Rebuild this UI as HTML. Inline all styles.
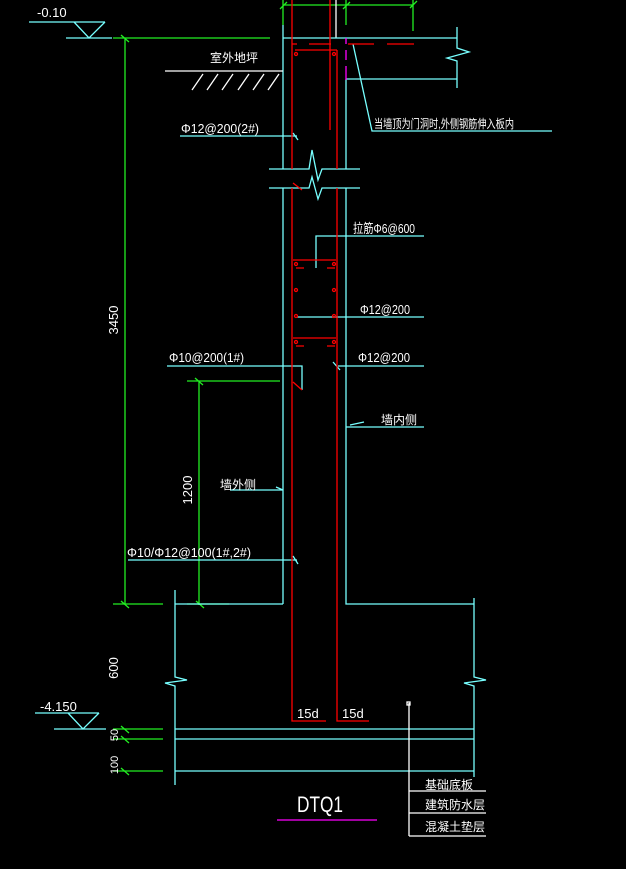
<!DOCTYPE html>
<html><head><meta charset="utf-8"><style>
html,body{margin:0;padding:0;background:#000;width:626px;height:869px;overflow:hidden}
svg{display:block}
text{font-family:"Liberation Sans","Noto Sans CJK SC",sans-serif;fill:#fff}
</style></head><body>
<svg width="626" height="869" viewBox="0 0 626 869" xmlns="http://www.w3.org/2000/svg">
<rect width="626" height="869" fill="#000"/>
<g fill="none" stroke-width="1.3">
<g stroke="#7ff">
<path d="M29 22H105M74 22L89 38L105 22M66 38H112"/>
</g>
<g stroke="#2e2">
<path d="M113 38H270M125 38V605M121 35L129 42"/>
<path d="M283 5H413M283 0V25M346 0V25M413 0V31M280 9L287 2M343 9L350 2M410 8L417 1"/>
<path d="M187 381H280M199 381V605M195 378L203 385"/>
<path d="M113 604H163M187 604H229M121 601L129 608M196 601L204 608"/>
<path d="M113 729H163M113 739H163M113 771H163M121 726L129 733M121 736L129 743M121 768L129 775"/>
</g>
<path d="M336 0V38" stroke="#fff"/>
<g stroke="#7ff">
<path d="M283 25V169M283 188V604M283 604H175M346 79V169M346 188V604H474"/>
<path d="M283 38H457M346 79H457M457 27V48L469 52L447 58L457 61V88"/>
<path d="M269 169H309L312 150L318 180L322 169H360M269 188H309L312 177L318 199L322 188H360"/>
<path d="M175 590V677L187 680L165 683L175 686V785M474 598V677L486 680L464 683L474 686V777"/>
<path d="M175 729H474M175 739H474M175 771H474"/>
<path d="M353 44L372 131H552"/>
<path d="M180 136H297M293 133L298 140"/>
<path d="M316 268V236H424"/>
<path d="M297 317H424"/>
<path d="M167 366H302V390M338 366H424M333 362L340 370"/>
<path d="M346 427H424M350 425L364 422"/>
<path d="M230 490H283M276 487L283 490"/>
<path d="M128 560H297M293 556L298 564"/>
<path d="M35 713H99M68 713L83 729L99 713M54 729H106"/>
</g>
<g stroke="#f00">
<path d="M292 0V169M292 188V721H326M337 50V169M337 188V721H369M330 0V130"/>
<path d="M292 44H297M309 44H331M348 44H374M387 44H414M295 50H337"/>
<path d="M293 260H336M293 338H336M296 268H304M327 268H335M296 346H304M327 346H335M293 183L302 190"/>
<circle cx="296" cy="54" r="1.5"/><circle cx="334" cy="54" r="1.5"/>
<circle cx="296" cy="264" r="1.5"/><circle cx="334" cy="264" r="1.5"/>
<circle cx="296" cy="290" r="1.5"/><circle cx="334" cy="290" r="1.5"/>
<circle cx="296" cy="316" r="1.5"/><circle cx="334" cy="316" r="1.5"/>
<circle cx="296" cy="342" r="1.5"/><circle cx="334" cy="342" r="1.5"/>
<path d="M293 382L302 390"/>
</g>
<path d="M346 38V44M346 50V60M346 66V80" stroke="#f0f"/>
<g stroke="#fff">
<path d="M165 71H283M192 90L203 74M207 90L218 74M222 90L233 74M238 90L249 74M253 90L264 74M268 90L279 74"/>
<path d="M409 703V836M409 791H486M409 813H486M409 836H486"/>
</g>
<rect x="407" y="702" width="3" height="3" stroke="#fff"/>
<path d="M277 820H377" stroke="#f0f"/>
</g>
<g font-size="13">
<text x="37" y="17">-0.10</text>
<text x="210" y="62" font-size="12">室外地坪</text>
<text x="374" y="128" font-size="12" textLength="140" lengthAdjust="spacingAndGlyphs">当墙顶为门洞时,外侧钢筋伸入板内</text>
<text x="181" y="133" textLength="78" lengthAdjust="spacingAndGlyphs">Φ12@200(2#)</text>
<text x="353" y="233" textLength="62" lengthAdjust="spacingAndGlyphs">拉筋Φ6@600</text>
<text x="360" y="314" textLength="50" lengthAdjust="spacingAndGlyphs">Φ12@200</text>
<text x="169" y="362" textLength="75" lengthAdjust="spacingAndGlyphs">Φ10@200(1#)</text>
<text x="358" y="362" textLength="52" lengthAdjust="spacingAndGlyphs">Φ12@200</text>
<text x="381" y="424" font-size="12">墙内侧</text>
<text x="220" y="489" font-size="12">墙外侧</text>
<text x="127" y="557" textLength="124" lengthAdjust="spacingAndGlyphs">Φ10/Φ12@100(1#,2#)</text>
<text x="40" y="711">-4.150</text>
<text x="297" y="718" font-size="13">15d</text>
<text x="342" y="718" font-size="13">15d</text>
<text x="297" y="812" font-size="22" textLength="46" lengthAdjust="spacingAndGlyphs">DTQ1</text>
<text x="425" y="789" font-size="12">基础底板</text>
<text x="425" y="809" font-size="12">建筑防水层</text>
<text x="425" y="831" font-size="12">混凝土垫层</text>
<text transform="translate(118,320) rotate(-90)" text-anchor="middle">3450</text>
<text transform="translate(192,490) rotate(-90)" text-anchor="middle">1200</text>
<text transform="translate(118,668) rotate(-90)" text-anchor="middle">600</text>
<text transform="translate(118,735) rotate(-90)" text-anchor="middle" font-size="11">50</text>
<text transform="translate(118,765) rotate(-90)" text-anchor="middle" font-size="11">100</text>
</g>
</svg>
</body></html>
